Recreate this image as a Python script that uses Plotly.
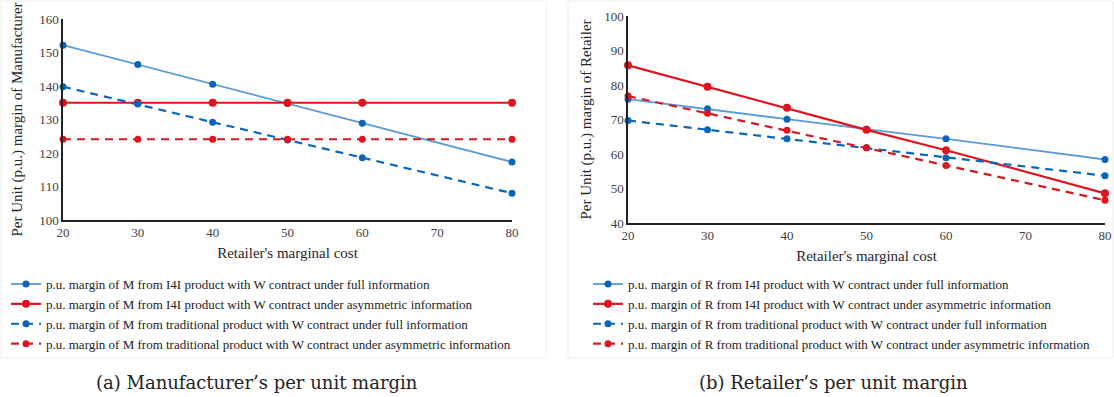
import plotly.graph_objects as go

# ---- data ----
cost = [20, 30, 40, 50, 60, 80]
x_ticks = [20, 30, 40, 50, 60, 70, 80]

m_i4i_full = [152.2, 146.4, 140.5, 134.8, 128.9, 117.3]
m_i4i_asym = [135.0, 135.0, 135.0, 135.0, 135.0, 135.0]
m_trad_full = [139.8, 134.6, 129.2, 123.9, 118.6, 108.0]
m_trad_asym = [124.1, 124.1, 124.1, 124.1, 124.1, 124.1]

r_i4i_full = [75.9, 73.1, 70.1, 67.2, 64.4, 58.4]
r_i4i_asym = [85.7, 79.5, 73.4, 67.0, 61.1, 48.6]
r_trad_full = [69.7, 67.0, 64.4, 61.8, 58.9, 53.7]
r_trad_asym = [76.8, 71.8, 66.9, 61.8, 56.7, 46.6]

names_m = [
    "p.u. margin of M from I4I product with W contract under full information",
    "p.u. margin of M from I4I product with W contract under asymmetric information",
    "p.u. margin of M from traditional product with W contract under full information",
    "p.u. margin of M from traditional product with W contract under asymmetric information",
]
names_r = [
    "p.u. margin of R from I4I product with W contract under full information",
    "p.u. margin of R from I4I product with W contract under asymmetric information",
    "p.u. margin of R from traditional product with W contract under full information",
    "p.u. margin of R from traditional product with W contract under asymmetric information",
]

W, H = 1114, 397


def px(x):
    return x / W


def py(y):
    return 1 - y / H


LIGHT_BLUE = "#5b9bd5"
BLUE = "#0b66b8"
RED = "#e0141e"
DRED = "#d11a22"

styles = [
    dict(line=dict(color=LIGHT_BLUE, width=1.8), marker=dict(color=BLUE, size=7)),
    dict(line=dict(color=RED, width=2.2), marker=dict(color=RED, size=8)),
    dict(line=dict(color=BLUE, width=2.2, dash="8px,6px"), marker=dict(color=BLUE, size=7)),
    dict(line=dict(color=DRED, width=2.2, dash="8px,6px"), marker=dict(color=RED, size=7)),
]

fig = go.Figure()
for ys, nm, st in zip([m_i4i_full, m_i4i_asym, m_trad_full, m_trad_asym], names_m, styles):
    fig.add_trace(go.Scatter(x=cost, y=ys, name=nm, mode="lines+markers",
                             line=st["line"], marker=st["marker"],
                             xaxis="x", yaxis="y", legend="legend", cliponaxis=False))
for ys, nm, st in zip([r_i4i_full, r_i4i_asym, r_trad_full, r_trad_asym], names_r, styles):
    fig.add_trace(go.Scatter(x=cost, y=ys, name=nm, mode="lines+markers",
                             line=st["line"], marker=st["marker"],
                             xaxis="x2", yaxis="y2", legend="legend2", cliponaxis=False))

serif = "Liberation Serif"
tickfont = dict(family=serif, size=13, color="#404040")
titlefont = dict(family=serif, size=15, color="#262626")


def xaxis(domain, anchor):
    return dict(domain=domain, anchor=anchor, range=[20, 80], tickvals=x_ticks,
                showgrid=False, zeroline=False, showline=True, linecolor="#222",
                linewidth=1.5, ticks="", tickfont=tickfont, automargin=False,
                title=dict(text="Retailer's marginal cost", font=titlefont, standoff=8))


def yaxis(domain, anchor, rng, title, standoff):
    return dict(domain=domain, anchor=anchor, range=rng, dtick=10,
                showgrid=False, zeroline=False, showline=True, linecolor="#222",
                linewidth=1.5, ticks="", tickfont=tickfont, automargin=False,
                title=dict(text=title, font=titlefont, standoff=standoff))


fig.update_layout(
    width=W, height=H,
    margin=dict(l=0, r=0, t=0, b=0, autoexpand=False),
    paper_bgcolor="white", plot_bgcolor="white",
    xaxis=xaxis([px(63), px(512)], "y"),
    yaxis=yaxis([py(220), py(19)], "x", [100, 160],
                "Per Unit (p.u.) margin of Manufacturer", 13),
    xaxis2=xaxis([px(628), px(1105)], "y2"),
    yaxis2=yaxis([py(223), py(16)], "x2", [40, 100],
                 "Per Unit (p.u.) margin of Retailer", 9),
    legend=dict(x=px(6), y=py(269), xanchor="left", yanchor="top",
                font=dict(family=serif, size=13, color="#222"),
                bgcolor="rgba(0,0,0,0)", tracegroupgap=0, itemwidth=30),
    legend2=dict(x=px(588), y=py(269), xanchor="left", yanchor="top",
                 font=dict(family=serif, size=13, color="#222"),
                 bgcolor="rgba(0,0,0,0)", tracegroupgap=0, itemwidth=30),
    showlegend=True,
    annotations=[
        dict(text="(a) Manufacturer’s per unit margin", x=px(257), y=py(382),
             xref="paper", yref="paper", showarrow=False,
             xanchor="center", yanchor="middle",
             font=dict(family="DejaVu Serif", size=18, color="#222")),
        dict(text="(b) Retailer’s per unit margin", x=px(833), y=py(382),
             xref="paper", yref="paper", showarrow=False,
             xanchor="center", yanchor="middle",
             font=dict(family="DejaVu Serif", size=18, color="#222")),
    ],
    shapes=[
        dict(type="rect", xref="paper", yref="paper", x0=px(1), x1=px(546),
             y0=py(358), y1=py(1), line=dict(color="#eeeeee", width=1)),
        dict(type="rect", xref="paper", yref="paper", x0=px(568), x1=px(1113),
             y0=py(358), y1=py(1), line=dict(color="#eeeeee", width=1)),
    ],
)

fig.write_html(
    "out.html",
    config={"displayModeBar": False},
    post_script="document.body.style.margin='0';document.body.style.overflow='hidden';",
)
